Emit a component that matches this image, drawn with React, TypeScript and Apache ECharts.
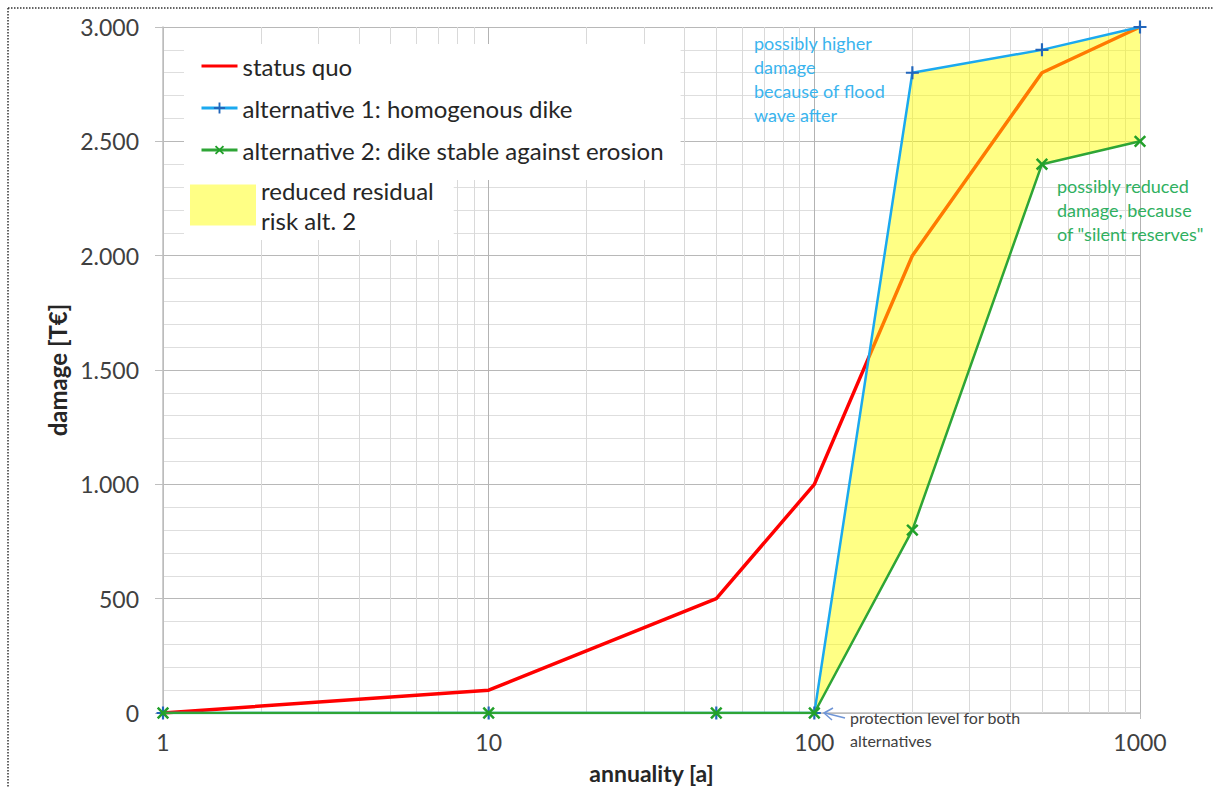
import React, { useEffect, useRef } from "react";
import * as echarts from "echarts";

// ---- data ----
const annuality = [1, 10, 50, 100, 200, 500, 1000];
const statusQuo = [0, 100, 500, 1000, 2000, 2800, 3000];
const alternative1 = [0, 0, 0, 0, 2800, 2900, 3000];
const alternative2 = [0, 0, 0, 0, 800, 2400, 2500];
const areaStartIndex = 3; // yellow area starts at annuality 100
const xMinorTicks = [2, 3, 4, 5, 6, 7, 8, 9, 20, 30, 40, 50, 60, 70, 80, 90, 200, 300, 400, 500, 600, 700, 800, 900];

const seriesNames = [
  "status quo",
  "alternative 1: homogenous dike",
  "alternative 2: dike stable against erosion",
  "reduced residual\nrisk alt. 2",
];

const FONT = "Lato, 'Open Sans', sans-serif";

const plusPath = "path://M5,0 H7 V5 H12 V7 H7 V12 H5 V7 H0 V5 H5 Z";

function germanThousands(v: number): string {
  return String(Math.round(v)).replace(/\B(?=(\d{3})+(?!\d))/g, ".");
}

export default function App() {
  const ref = useRef<HTMLDivElement>(null);

  useEffect(() => {
    if (!ref.current) return;
    const chart = echarts.init(ref.current, undefined, { renderer: "svg" });

    const pts = (ys: number[]) => annuality.map((x, i) => [x, ys[i]]);
    const polygonData = [
      ...annuality.slice(areaStartIndex).map((x, i) => [x, alternative1[i + areaStartIndex]]),
      ...annuality
        .slice(areaStartIndex)
        .map((x, i) => [x, alternative2[i + areaStartIndex]])
        .reverse(),
    ];

    const option: any = {
      animation: false,
      backgroundColor: "#ffffff",
      grid: { left: 163, right: 75, top: 27, bottom: 74, containLabel: false, outerBoundsMode: "none" },
      xAxis: {
        type: "log",
        logBase: 10,
        min: 1,
        max: 1000,
        name: "annuality [a]",
        nameLocation: "middle",
        nameGap: 48,
        nameTextStyle: { fontFamily: FONT, fontSize: 23, fontWeight: "bold", color: "#262626" },
        axisLine: { show: true, lineStyle: { color: "#bfbfbf", width: 1.5 } },
        axisTick: { show: true, length: 6, lineStyle: { color: "#bfbfbf" } },
        axisLabel: {
          margin: 17,
          fontFamily: FONT,
          fontSize: 23,
          color: "#404040",
          formatter: (v: number) => String(Math.round(v)),
        },
        splitLine: { show: true, lineStyle: { color: "#b3b3b3", width: 1 } },
      },
      yAxis: {
        type: "value",
        min: 0,
        max: 3000,
        interval: 500,
        name: "damage [T€]",
        nameLocation: "middle",
        nameGap: 94,
        nameTextStyle: { fontFamily: FONT, fontSize: 24, fontWeight: "bold", color: "#262626" },
        axisLine: { show: true, lineStyle: { color: "#bfbfbf", width: 1.5 } },
        axisTick: { show: true, length: 8, lineStyle: { color: "#bfbfbf" } },
        axisLabel: {
          margin: 24,
          fontFamily: FONT,
          fontSize: 23,
          color: "#404040",
          formatter: germanThousands,
        },
        splitLine: { show: true, lineStyle: { color: "#b8b8b8", width: 1.2 } },
        minorTick: { show: false, splitNumber: 5 },
        minorSplitLine: { show: true, lineStyle: { color: "#dedede", width: 1 } },
      },
      legend: [
        {
          data: [seriesNames[0], seriesNames[1], seriesNames[2]],
          orient: "vertical",
          left: 184,
          top: 44,
          padding: [10, 17, 18, 16],
          itemGap: 18,
          itemWidth: 36,
          itemHeight: 14,
          backgroundColor: "#ffffff",
          selectedMode: false,
          lineStyle: { width: 3 },
          textStyle: { fontFamily: FONT, fontSize: 24, lineHeight: 24, color: "#262626" },
        },
        {
          data: [{ name: seriesNames[3], icon: "rect" }],
          orient: "vertical",
          left: 184,
          top: 172,
          padding: [3, 20, 5, 6],
          itemWidth: 66,
          itemHeight: 41,
          backgroundColor: "#ffffff",
          selectedMode: false,
          textStyle: { fontFamily: FONT, fontSize: 24, lineHeight: 30, color: "#262626" },
        },
      ],
      series: [
        {
          name: seriesNames[0],
          type: "line",
          z: 2,
          data: pts(statusQuo),
          symbol: "circle",
          showSymbol: false,
          lineStyle: { color: "#ff0000", width: 3.5 },
          itemStyle: { color: "rgba(0,0,0,0)" },
          markLine: {
            z: 1,
            silent: true,
            symbol: ["none", "none"],
            label: { show: false },
            lineStyle: { color: "#d9d9d9", width: 1, type: "solid" },
            data: xMinorTicks.map((v) => ({ xAxis: v })),
          },
        },
        {
          name: seriesNames[3],
          type: "custom",
          z: 3,
          data: polygonData,
          encode: { x: 0, y: 1 },
          itemStyle: { color: "rgba(255,255,0,0.48)" },
          renderItem: (params: any, api: any) => {
            if (params.dataIndex !== 0) return null;
            const points = polygonData.map((p) => api.coord(p));
            return {
              type: "polygon",
              shape: { points },
              style: { fill: "rgba(255,255,0,0.48)", stroke: "none" },
            };
          },
        },
        {
          name: seriesNames[1],
          type: "line",
          z: 4,
          data: pts(alternative1),
          symbol: plusPath,
          symbolSize: 13,
          lineStyle: { color: "#1ba9ef", width: 2.5 },
          itemStyle: { color: "#2266bb" },
        },
        {
          name: seriesNames[2],
          type: "line",
          z: 5,
          data: pts(alternative2),
          symbol: plusPath,
          symbolSize: 15,
          symbolRotate: 45,
          lineStyle: { color: "#2ea536", width: 2.5 },
          itemStyle: { color: "#22a02a" },
        },
      ],
      graphic: [
        // dotted frame
        {
          type: "line",
          shape: { x1: 8, y1: 8, x2: 1213, y2: 8 },
          style: { stroke: "#333333", lineWidth: 1.5, lineDash: [1.5, 1.5] },
          silent: true,
        },
        {
          type: "line",
          shape: { x1: 8, y1: 8, x2: 8, y2: 787 },
          style: { stroke: "#333333", lineWidth: 1.5, lineDash: [1.5, 1.5] },
          silent: true,
        },
        {
          type: "text",
          x: 754,
          y: 31,
          z: 10,
          style: {
            text: "possibly higher\ndamage\nbecause of flood\nwave after",
            fill: "#3ab4ee",
            font: `18px ${FONT}`,
            lineHeight: 24,
          },
        },
        {
          type: "text",
          x: 1057,
          y: 174,
          z: 10,
          style: {
            text: "possibly reduced\ndamage, because\nof \"silent reserves\"",
            fill: "#2fb060",
            font: `18px ${FONT}`,
            lineHeight: 24,
          },
        },
        {
          type: "text",
          x: 850,
          y: 706,
          z: 10,
          style: {
            text: "protection level for both\nalternatives",
            fill: "#404040",
            font: `16px ${FONT}`,
            lineHeight: 23,
          },
        },
        {
          type: "line",
          z: 10,
          shape: { x1: 845, y1: 718, x2: 825, y2: 713 },
          style: { stroke: "#6f95d6", lineWidth: 1.5 },
        },
        {
          type: "polyline",
          z: 10,
          shape: { points: [[833, 708], [824, 713], [832, 720]] },
          style: { stroke: "#6f95d6", lineWidth: 1.5, fill: "none" },
        },
      ],
    };

    chart.setOption(option);
    return () => chart.dispose();
  }, []);

  return (
    <div
      ref={ref}
      style={{ position: "fixed", left: 0, top: 0, width: 1215, height: 787, background: "#fff" }}
    />
  );
}
